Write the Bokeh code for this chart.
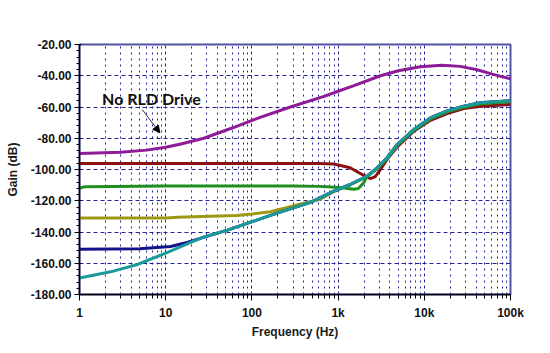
from bokeh.plotting import figure
from bokeh.models import Range1d, FixedTicker, Label, Arrow, NormalHead, NumeralTickFormatter
from bokeh.embed import file_html
from bokeh.resources import INLINE

# ---- data ----
x_ticks = [1, 10, 100, 1000, 10000, 100000]
x_tick_labels = ["1", "10", "100", "1k", "10k", "100k"]
y_ticks = [-180, -160, -140, -120, -100, -80, -60, -40, -20]

# shared high-frequency rise (all driven curves converge)
tail_f = [2840, 3700, 4850, 7560, 11800, 18400, 28700, 45000, 100000]
tail_db = [-98.9, -92.5, -84.0, -74.4, -67.0, -62.5, -59.5, -57.3, -56.0]

purple_f = [1, 3, 6, 10, 15, 27.7, 60, 120, 280, 700, 1000, 1500, 3100, 5000, 9000, 16000, 26000, 40000, 60000, 100000]
purple_db = [-89.8, -89.0, -87.6, -85.7, -83.7, -80.0, -73.3, -67.0, -60.0, -53.0, -49.9, -46.5, -40.0, -36.8, -34.3, -33.3, -34.0, -36.0, -38.8, -42.0]

red_f = [1, 100, 600, 890, 1380, 1990, 2377, 2700, 3100, 3700, 4850, 7560, 11800, 18400, 28700, 45000, 100000]
red_db = [-96.1, -96.1, -96.2, -96.5, -98.9, -103.8, -105.8, -104.5, -100.0, -93.5, -85.5, -75.5, -68.5, -64.2, -61.0, -59.5, -58.4]

green_f = [1, 1.15, 10, 300, 600, 1060, 1520, 1720, 1980, 2175]
green_db = [-112.0, -111.0, -110.6, -110.6, -110.8, -111.5, -112.6, -112.2, -108.5, -104.3]

olive_f = [1, 10, 13.6, 67, 100, 164, 250, 400, 600, 890, 1380, 2175]
olive_db = [-131.0, -131.0, -130.5, -129.5, -128.5, -127.0, -124.5, -121.5, -119.3, -114.2, -109.8, -104.3]

blue_f = [1, 5, 11.4, 17.7, 28, 52, 105, 200, 480, 890, 1380, 2175]
blue_db = [-151.0, -150.7, -149.3, -146.7, -143.3, -138.8, -133.0, -127.8, -121.0, -113.9, -109.6, -104.3]

teal_f = [1, 2.3, 4.7, 10, 28, 52, 105, 200, 480, 890, 1380, 2175]
teal_db = [-169.5, -165.5, -160.8, -153.5, -143.0, -138.8, -133.0, -127.8, -121.0, -113.9, -109.6, -104.3]

annot_text = "No RLD Drive"

# ---- figure ----
p = figure(width=550, height=353, x_axis_type="log",
           x_range=Range1d(1, 100000), y_range=Range1d(-180, -20),
           output_backend="svg", toolbar_location=None,
           min_border_left=79, min_border_right=40, min_border_top=44, min_border_bottom=59)
p.background_fill_color = "white"
p.border_fill_color = "white"
p.outline_line_color = "#5353a8"
p.outline_line_width = 2

grid_col = "#24249a"
minor_x = [m * d for d in [1, 10, 100, 1000, 10000] for m in range(2, 10)]
p.xaxis.ticker = FixedTicker(ticks=x_ticks, minor_ticks=minor_x)
p.xaxis.major_label_overrides = {t: l for t, l in zip(x_ticks, x_tick_labels)}
minor_y = [v for v in range(-180, -19, 4) if v not in y_ticks]
p.yaxis.ticker = FixedTicker(ticks=y_ticks, minor_ticks=minor_y)
p.yaxis.formatter = NumeralTickFormatter(format="0.00")

p.xgrid.grid_line_color = grid_col
p.xgrid.grid_line_dash = "3 3"
p.xgrid.grid_line_width = 1
p.xgrid.minor_grid_line_color = grid_col
p.xgrid.minor_grid_line_dash = "2 4"
p.ygrid.grid_line_color = grid_col
p.ygrid.grid_line_dash = "4 3"
p.ygrid.grid_line_width = 1

for ax in (p.xaxis[0], p.yaxis[0]):
    ax.axis_line_color = "black"
    ax.axis_line_width = 1.5
    ax.major_tick_line_color = "black"
    ax.minor_tick_line_color = "black"
    ax.major_label_text_font = "Liberation Sans"
    ax.major_label_text_font_size = "12px"
    ax.major_label_text_font_style = "bold"
    ax.major_label_text_color = "#111111"
    ax.axis_label_text_font = "Liberation Sans"
    ax.axis_label_text_font_size = "12px"
    ax.axis_label_text_font_style = "bold"
    ax.axis_label_text_color = "#1a1a1a"

p.xaxis.major_tick_out = 6
p.xaxis.major_tick_in = 0
p.xaxis.minor_tick_out = 4
p.xaxis.minor_tick_in = 0
p.xaxis.major_label_standoff = 5
p.xaxis.axis_label = "Frequency (Hz)"
p.xaxis.axis_label_standoff = 2

p.yaxis.major_tick_out = 5
p.yaxis.major_tick_in = 2
p.yaxis.minor_tick_out = 3
p.yaxis.minor_tick_in = 0
p.yaxis.major_label_standoff = 3
p.yaxis.axis_label = "Gain (dB)"
p.yaxis.axis_label_standoff = 8

lw = 3
p.line(purple_f, purple_db, line_color="#8e1c98", line_width=lw)
p.line(red_f, red_db, line_color="#8c1212", line_width=lw)
p.line(olive_f + tail_f, olive_db + tail_db, line_color="#9c9a14", line_width=lw)
p.line(blue_f + tail_f, blue_db + tail_db, line_color="#14148a", line_width=lw)
p.line(green_f + tail_f, green_db + [v - 0.6 for v in tail_db], line_color="#1f8f1f", line_width=lw)
p.line(teal_f + tail_f, teal_db + tail_db, line_color="#1a9a9a", line_width=lw)

p.add_layout(Label(x=1.83, y=-54.6, text=annot_text, text_font="Lato", text_font_style="bold",
                   text_font_size="16px", text_color="#111111", text_baseline="middle"))
p.add_layout(Arrow(end=NormalHead(size=7, fill_color="black", line_color="black"),
                   x_start=5.34, y_start=-61.6, x_end=8.54, y_end=-76.5,
                   line_color="#333333", line_width=1))

# watermark of the source site (outside the frame, canvas units)
p.add_layout(Label(x=440, y=318, x_units="canvas", y_units="canvas", text="电子发烧友",
                   text_font="Noto Sans CJK SC", text_font_size="19px", text_font_style="italic",
                   text_color="#d2d2d2", text_baseline="middle"))
p.add_layout(Label(x=446, y=340, x_units="canvas", y_units="canvas", text="www.elecfans.com",
                   text_font="Liberation Sans", text_font_size="11px", text_color="#d2d2d2",
                   text_baseline="middle"))

open("out.html", "w").write(file_html(p, INLINE))
